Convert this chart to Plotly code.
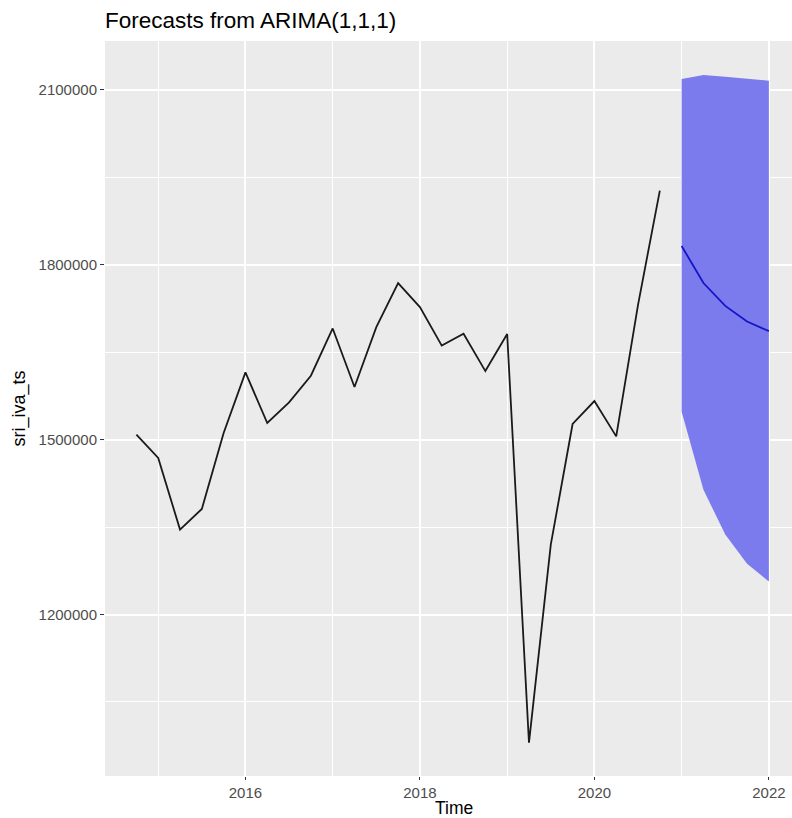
import plotly.graph_objects as go

# Quarterly observed series (decimal year, value)
obs_time = [2014.75, 2015.00, 2015.25, 2015.50, 2015.75, 2016.00, 2016.25, 2016.50,
            2016.75, 2017.00, 2017.25, 2017.50, 2017.75, 2018.00, 2018.25, 2018.50,
            2018.75, 2019.00, 2019.25, 2019.50, 2019.75, 2020.00, 2020.25, 2020.50,
            2020.75]
obs_value = [1508600, 1468600, 1345700, 1381200, 1511400, 1615400, 1528600, 1564000,
             1609700, 1690800, 1590300, 1693100, 1768600, 1727400, 1661400, 1681700,
             1617700, 1681200, 980100, 1320000, 1526900, 1566300, 1505700, 1731400,
             1927400]

# ARIMA(1,1,1) point forecasts and prediction interval
fc_time = [2021.00, 2021.25, 2021.50, 2021.75, 2022.00]
fc_mean = [1832300, 1768700, 1729600, 1702700, 1686200]
fc_upper = [2118900, 2125700, 2122600, 2119000, 2115900]
fc_lower = [1548100, 1414200, 1337200, 1287100, 1256600]

x_ticks = [2016, 2018, 2020, 2022]
x_tick_text = ["2016", "2018", "2020", "2022"]
y_ticks = [1200000, 1500000, 1800000, 2100000]
y_tick_text = ["1200000", "1500000", "1800000", "2100000"]

FONT = "Liberation Sans, Arial, sans-serif"
TICK_FONT = dict(family=FONT, size=15, color="#4D4D4D")

fig = go.Figure()

# Prediction interval band
fig.add_trace(go.Scatter(
    x=fc_time + fc_time[::-1],
    y=fc_upper + fc_lower[::-1],
    fill="toself", fillcolor="#7B7BEE",
    line=dict(width=0), mode="lines", hoverinfo="skip", showlegend=False,
))

# Observed series
fig.add_trace(go.Scatter(
    x=obs_time, y=obs_value, mode="lines",
    line=dict(color="#1a1a1a", width=1.8), showlegend=False,
))

# Forecast mean
fig.add_trace(go.Scatter(
    x=fc_time, y=fc_mean, mode="lines",
    line=dict(color="#1414C8", width=1.8), showlegend=False,
))

fig.update_layout(
    width=792, height=818,
    margin=dict(l=105, r=0, t=41, b=42),
    paper_bgcolor="white", plot_bgcolor="#EBEBEB",
    font=dict(family=FONT, color="black"),
    title=dict(
        text="Forecasts from ARIMA(1,1,1)",
        font=dict(size=22.5, color="black"),
        xref="paper", x=0.0, xanchor="left",
        yref="container", y=1 - 20 / 818, yanchor="middle",
    ),
    annotations=[
        # x-axis title, centred on the full (uncropped) panel width
        dict(text="Time", xref="paper", yref="paper",
             x=(453.5 - 105) / 687, y=-32 / 735,
             xanchor="center", yanchor="middle", showarrow=False,
             font=dict(family=FONT, size=17.5, color="black")),
    ],
)

fig.update_xaxes(
    range=[2014.39, 2022.265],
    tickvals=x_ticks, ticktext=x_tick_text,
    showgrid=True, gridcolor="white", gridwidth=1.6,
    minor=dict(dtick=1, tick0=2015, showgrid=True, gridcolor="white", gridwidth=0.8),
    ticks="outside", ticklen=3, tickwidth=1.2, tickcolor="#333333",
    tickfont=TICK_FONT, zeroline=False, showline=False,
)

fig.update_yaxes(
    range=[923000, 2184000],
    tickvals=y_ticks, ticktext=y_tick_text,
    showgrid=True, gridcolor="white", gridwidth=1.6,
    minor=dict(dtick=150000, tick0=1050000, showgrid=True, gridcolor="white", gridwidth=0.8),
    ticks="outside", ticklen=4, tickwidth=1.2, tickcolor="#333333",
    tickfont=TICK_FONT, zeroline=False, showline=False,
    title=dict(text="sri_iva_ts", font=dict(size=18, color="black"), standoff=8),
)

fig.write_html("out.html")
